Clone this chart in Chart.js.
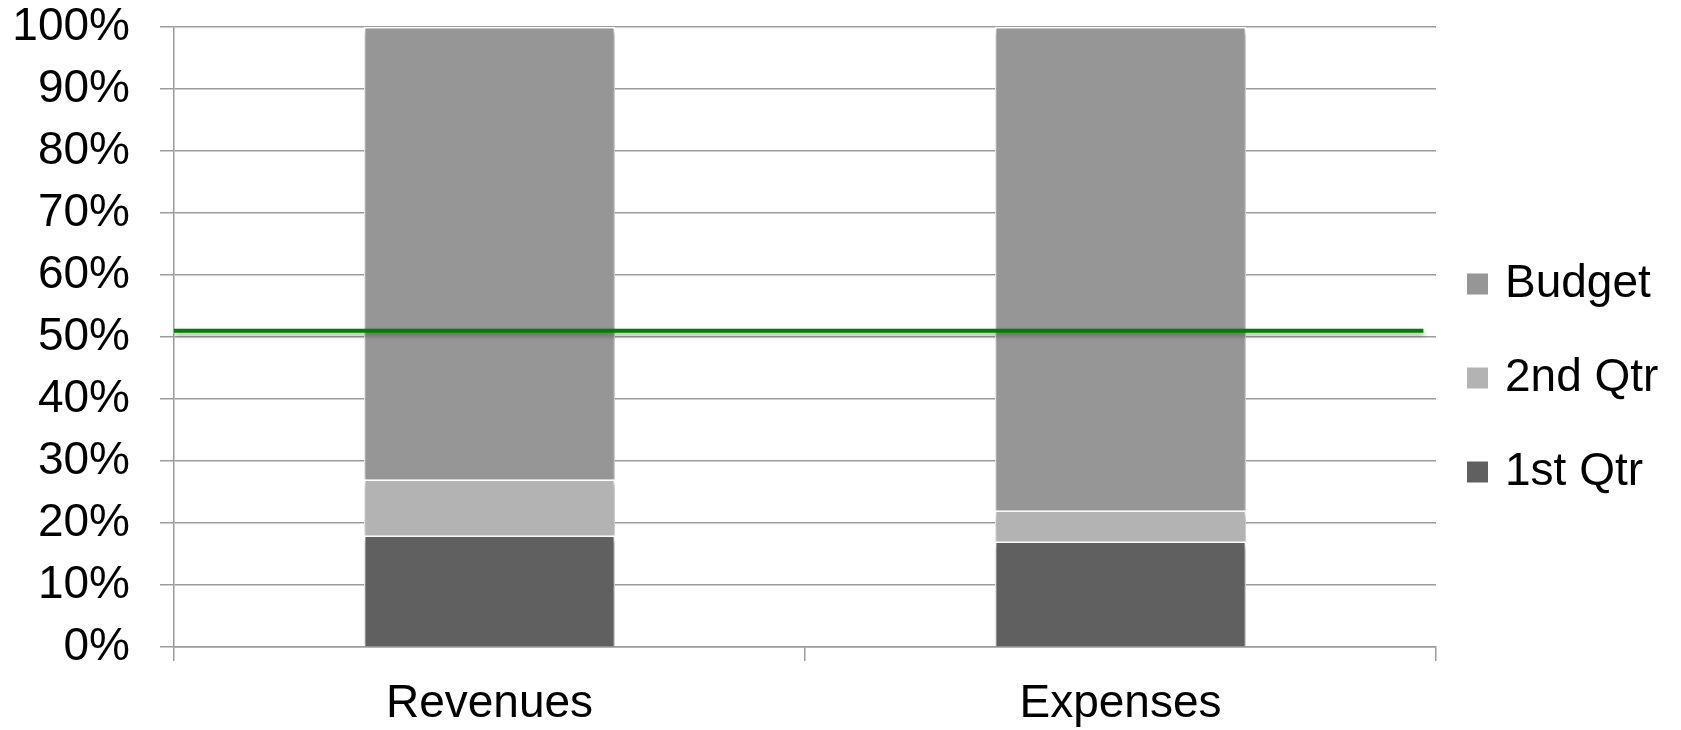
<!DOCTYPE html>
<html>
<head>
<meta charset="utf-8">
<script src="https://cdn.jsdelivr.net/npm/chart.js@4.4.0/dist/chart.umd.min.js"></script>
<style>
    body { margin: 0; background: #fff; }
    canvas { display: block; }
</style>
</head>
<body>
<canvas id="budgetChart" width="1681" height="730"></canvas>
<script>
const categories = ['Revenues', 'Expenses'];
const firstQtr = [18, 17];
const secondQtr = [9, 5];
const budget = [73, 78];
const targetLevel = 51;
// target line runs across both category slots (0..2)
const targetSpan = [0, 1.98];
const yTicks = [0, 10, 20, 30, 40, 50, 60, 70, 80, 90, 100];

const FONT = 'Liberation Sans, Arial, sans-serif';
const gridColor = '#9c9c9c';

// soft drop shadow under bars and the target line
const shadowPlugin = {
    id: 'shadow',
    beforeDatasetsDraw(chart) {
        const ctx = chart.ctx;
        ctx.save();
        ctx.shadowColor = 'rgba(0, 0, 0, 0.35)';
        ctx.shadowBlur = 5;
        ctx.shadowOffsetX = 1;
        ctx.shadowOffsetY = 3;
    },
    afterDatasetsDraw(chart) {
        chart.ctx.restore();
    },
};

// legend on the right, top to bottom: Budget, 2nd Qtr, 1st Qtr
const sideLegend = {
    id: 'sideLegend',
    afterDraw(chart) {
        const ctx = chart.ctx;
        const items = chart.data.datasets.filter((d) => d.type !== 'line').reverse();
        const left = chart.chartArea.right + 31;
        let y = 284;
        ctx.save();
        ctx.font = '46px ' + FONT;
        ctx.textBaseline = 'middle';
        items.forEach((d) => {
            ctx.fillStyle = d.backgroundColor;
            ctx.fillRect(left, y - 10.5, 21, 21);
            ctx.fillStyle = '#000';
            ctx.fillText(d.label, left + 38, y);
            y += 94;
        });
        ctx.restore();
    },
};

const barStyle = {
    borderColor: '#ffffff',
    borderWidth: 1.5,
    grouped: false,
};

const ctx = document.getElementById('budgetChart').getContext('2d');
const chart = new Chart(ctx, {
    type: 'bar',
    data: {
        labels: categories,
        datasets: [
            {
                type: 'line',
                label: 'Target',
                data: targetSpan.map((x) => ({ x: x, y: targetLevel })),
                xAxisID: 'xTarget',
                borderColor: '#008000',
                borderWidth: 4,
                pointRadius: 0,
                fill: false,
            },
            { label: '1st Qtr', data: firstQtr, backgroundColor: '#606060', ...barStyle },
            { label: '2nd Qtr', data: secondQtr, backgroundColor: '#b3b3b3', ...barStyle },
            { label: 'Budget', data: budget, backgroundColor: '#969696', ...barStyle },
        ],
    },
    options: {
        responsive: false,
        animation: false,
        events: [],
        categoryPercentage: 1,
        barPercentage: 0.398,
        layout: {
            padding: { left: 0, right: 245, top: 0, bottom: 0 },
        },
        plugins: {
            legend: { display: false },
            tooltip: { enabled: false },
        },
        scales: {
            x: {
                stacked: true,
                afterFit: (scale) => { scale.height = 83; },
                grid: {
                    offset: true,
                    drawOnChartArea: false,
                    tickLength: 14,
                    color: gridColor,
                    lineWidth: 1.5,
                },
                border: { color: gridColor, width: 1.5 },
                ticks: {
                    color: '#000',
                    padding: 16,
                    font: { family: FONT, size: 46 },
                },
            },
            xTarget: {
                type: 'linear',
                display: false,
                offset: false,
                min: 0,
                max: 2,
            },
            y: {
                stacked: true,
                min: 0,
                max: 100,
                afterBuildTicks: (axis) => {
                    axis.ticks = yTicks.map((v) => ({ value: v }));
                },
                afterFit: (scale) => {
                    scale.width = 174;
                    scale.paddingTop = 27;
                    scale.paddingBottom = 27;
                },
                grid: {
                    tickLength: 14,
                    color: gridColor,
                    lineWidth: 1.5,
                },
                border: { color: gridColor, width: 1.5 },
                ticks: {
                    color: '#000',
                    padding: 30,
                    autoSkip: false,
                    font: { family: FONT, size: 46 },
                    callback: (v) => v + '%',
                },
            },
        },
    },
    plugins: [shadowPlugin, sideLegend],
});
</script>
</body>
</html>
